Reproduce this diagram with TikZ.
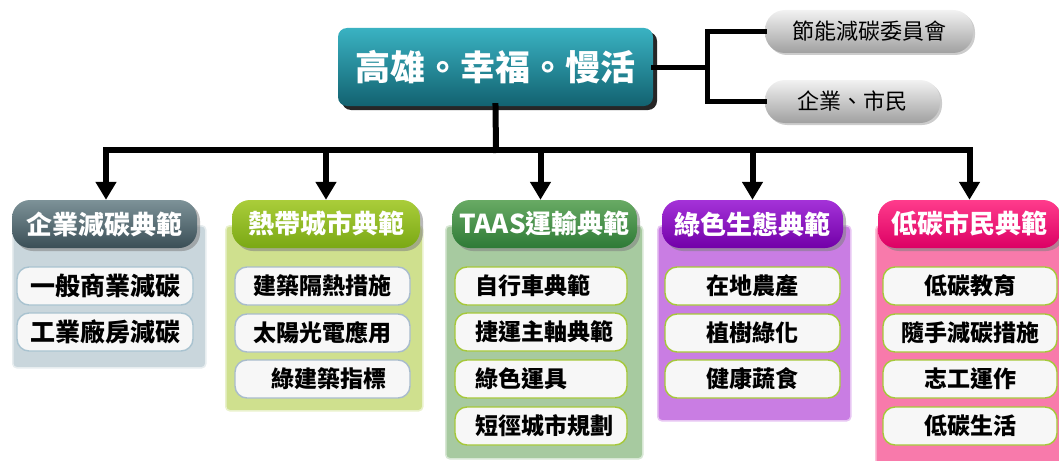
\documentclass[tikz,border=0pt]{standalone}
\usepackage{fontspec}
\newfontfamily\cjk{Noto Sans CJK TC}
\usetikzlibrary{shadows,arrows.meta}
\definecolor{titletop}{RGB}{58,178,194}
\definecolor{titlebot}{RGB}{18,98,112}
\definecolor{graytop}{RGB}{242,242,242}
\definecolor{graybot}{RGB}{160,160,160}
\definecolor{hAtop}{RGB}{125,146,152}\definecolor{hAbot}{RGB}{58,78,86}
\definecolor{hBtop}{RGB}{170,205,58}\definecolor{hBbot}{RGB}{122,168,20}
\definecolor{hCtop}{RGB}{104,170,100}\definecolor{hCbot}{RGB}{46,122,54}
\definecolor{hDtop}{RGB}{164,50,216}\definecolor{hDbot}{RGB}{114,0,168}
\definecolor{hEtop}{RGB}{255,60,140}\definecolor{hEbot}{RGB}{220,0,100}
\definecolor{pA}{RGB}{201,214,220}
\definecolor{pB}{RGB}{207,224,142}
\definecolor{pC}{RGB}{167,202,160}
\definecolor{pD}{RGB}{201,125,227}
\definecolor{pE}{RGB}{248,122,171}
\definecolor{bA}{RGB}{169,195,208}
\definecolor{bB}{RGB}{169,188,204}
\definecolor{bG}{RGB}{166,200,58}
\definecolor{itemfill}{RGB}{247,247,247}
\tikzset{
  conn/.style={line width=6pt, line cap=rect},
  conntwo/.style={line width=5pt, line cap=rect},
  arr/.style={line width=6pt, -{Triangle[width=20pt,length=18pt]}},
  titlebox/.style={rounded corners=9pt, top color=titletop, bottom color=titlebot,
    minimum width=315pt, minimum height=78pt, inner sep=0pt, text=white,
    font=\cjk\bfseries\fontsize{35}{40}\selectfont,
    drop shadow={shadow xshift=4pt, shadow yshift=-4pt, opacity=0.85, fill=black}},
  graybox/.style={rounded corners=20pt, top color=graytop, bottom color=graybot,
    minimum height=43pt, inner sep=0pt, text=black,
    font=\cjk\fontsize{22}{26}\selectfont,
    drop shadow={shadow xshift=2pt, shadow yshift=-2pt, opacity=0.4}},
  panelbox/.style={fill=#1, draw=white!55!#1, line width=1.5pt, rounded corners=4pt,
    anchor=north west, inner sep=0pt},
  hdrbox/.style n args={2}{rounded corners=18pt, top color=#1, bottom color=#2,
    minimum height=48pt, inner sep=0pt, text=white,
    font=\cjk\bfseries\fontsize{26}{30}\selectfont,
    drop shadow={shadow xshift=3pt, shadow yshift=-3pt, opacity=0.55}},
  itembox/.style={rounded corners=12pt, fill=itemfill, draw=#1, line width=1.4pt,
    minimum height=38pt, inner sep=0pt, text=black,
    font=\cjk\bfseries\fontsize{23}{26}\selectfont},
}
\begin{document}
\begin{tikzpicture}[x=1pt,y=-1pt]
\useasboundingbox (0,0) rectangle (1059,460);
% top
\node[titlebox] (title) at (495.5,67) {高雄。幸福。慢活};
\node[graybox, minimum width=208pt] (g1) at (869,31.5) {節能減碳委員會};
\node[graybox, minimum width=175pt] (g2) at (852.5,101.5) {企業、市民};
\coordinate (rj) at (707,67);
\draw[conntwo] (title.east) -- (rj);
\draw[conntwo] (g1.west) -| (rj) |- (g2.west);
% panels
\node[panelbox=pA, minimum width=193pt, minimum height=142pt] (p1) at (12,225) {};
\node[panelbox=pB, minimum width=197pt, minimum height=185pt] (p2) at (225,225) {};
\node[panelbox=pC, minimum width=197pt, minimum height=233pt] (p3) at (445,225) {};
\node[panelbox=pD, minimum width=193pt, minimum height=195pt] (p4) at (657,225) {};
\node[panelbox=pE, minimum width=200pt, minimum height=245pt] (p5) at (875,225) {};
% headers
\node[hdrbox={hAtop}{hAbot}, minimum width=185pt] (h1) at (104.5,224) {企業減碳典範};
\node[hdrbox={hBtop}{hBbot}, minimum width=188pt] (h2) at (326,224) {熱帶城市典範};
\node[hdrbox={hCtop}{hCbot}, minimum width=185pt] (h3) at (544.5,224) {TAAS運輸典範};
\node[hdrbox={hDtop}{hDbot}, minimum width=181pt] (h4) at (752.5,224) {綠色生態典範};
\node[hdrbox={hEtop}{hEbot}, minimum width=183pt] (h5) at (969.5,224) {低碳市民典範};
% connectors
\coordinate (bus) at (496,150);
\draw[conn] (title.south) -- (bus);
\draw[arr] (bus) -| ([xshift=1.5pt]h1.north);
\draw[arr] (bus) -| (h5.north);
\draw[arr] (h2.north |- bus) -- (h2.north);
\draw[arr] ([xshift=-4pt]h3.north |- bus) -- ([xshift=-4pt]h3.north);
\draw[arr] (h4.north |- bus) -- (h4.north);
% column 1
\begin{scope}[every node/.append style={itembox=bA, minimum width=176pt, font=\cjk\bfseries\fontsize{25}{28}\selectfont}]
\node (a1) at (105,286) {一般商業減碳};
\node (a2) at (105,332) {工業廠房減碳};
\end{scope}
% column 2
\begin{scope}[every node/.append style={itembox=bB, minimum width=175pt}]
\node (b1) at (322.5,286) {建築隔熱措施};
\node (b2) at (322.5,333) {太陽光電應用};
\node (b3) at (322.5,379) {\hspace{12pt}綠建築指標};
\end{scope}
% column 3
\begin{scope}[every node/.append style={itembox=bG, minimum width=172pt, text width=132pt, align=left, inner xsep=20pt}]
\node (c1) at (541,286) {自行車典範};
\node (c2) at (541,332) {捷運主軸典範};
\node (c3) at (541,379) {綠色運具};
\node (c4) at (541,426) {短徑城市規劃};
\end{scope}
% column 4
\begin{scope}[every node/.append style={itembox=bG, minimum width=175pt}]
\node (d1) at (752.5,286) {在地農產};
\node (d2) at (752.5,333) {植樹綠化};
\node (d3) at (752.5,379) {健康蔬食};
\end{scope}
% column 5
\begin{scope}[every node/.append style={itembox=bG, minimum width=174pt}]
\node (e1) at (970,286) {低碳教育};
\node (e2) at (970,333) {隨手減碳措施};
\node (e3) at (970,379) {志工運作};
\node (e4) at (970,426) {低碳生活};
\end{scope}
\end{tikzpicture}
\end{document}
